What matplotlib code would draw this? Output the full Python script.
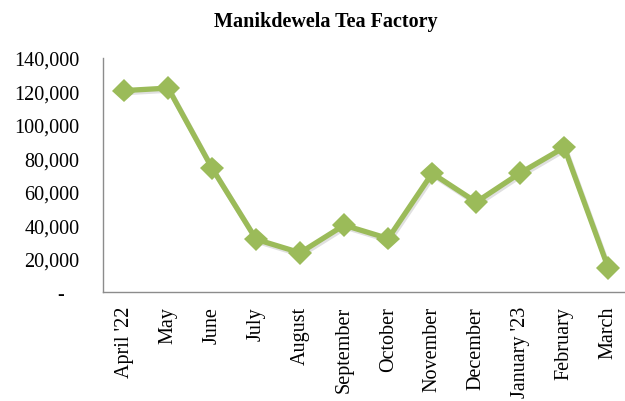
import matplotlib.pyplot as plt
import matplotlib.patheffects as pe
from matplotlib.ticker import FuncFormatter

months = ["April '22", "May", "June", "July", "August", "September", "October",
          "November", "December", "January '23", "February", "March"]
values = [120500, 122000, 74000, 31500, 23500, 40000, 32000,
          71000, 53800, 71200, 86500, 14500]

plt.rcParams['font.family'] = ['Liberation Serif', 'DejaVu Serif']

fig = plt.figure(figsize=(6.25, 4.02), dpi=100)
ax = fig.add_axes([103 / 625, 1 - 293 / 402, 525 / 625, 234 / 402])

x = list(range(len(months)))
ax.plot(x, values, color='#9BBB59', linewidth=3.8, marker='D', markersize=12,
        markeredgewidth=0,
        path_effects=[pe.SimpleLineShadow(offset=(1, -1.5), alpha=0.12), pe.Normal()])

ax.set_xlim(-0.48, 11.45)
ax.set_ylim(0, 140000)
ax.set_yticks(range(0, 140001, 20000))
ax.yaxis.set_major_formatter(FuncFormatter(lambda v, p: '-   ' if v == 0 else f'{int(v):,}'))
ax.set_xticks(x)
ax.set_xticklabels(months, rotation=90)
ax.tick_params(length=0, labelsize=14.5, colors='black')
ax.tick_params(axis='y', pad=17)
ax.tick_params(axis='x', pad=10)

for s in ['top', 'right']:
    ax.spines[s].set_visible(False)
for s in ['left', 'bottom']:
    ax.spines[s].set_color('#8c8c8c')
    ax.spines[s].set_linewidth(1)

fig.text(0.522, 0.945, 'Manikdewela Tea Factory', ha='center', va='center',
         fontsize=14.5, fontweight='bold')

fig.savefig('out.png', dpi=100)
